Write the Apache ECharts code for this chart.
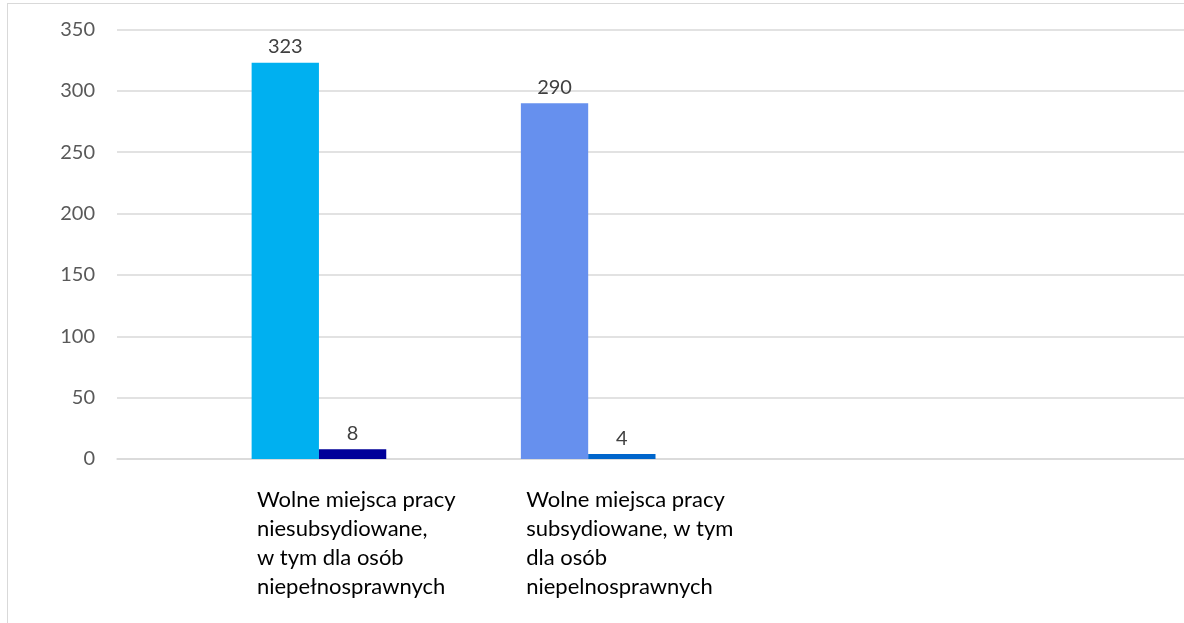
<!DOCTYPE html>
<html>
<head>
  <meta charset="utf-8">
  <title>Wolne miejsca pracy</title>
  <style>
    html, body { margin: 0; padding: 0; background: #fff; }
    #chart { width: 1184px; height: 623px; }
    #frame { position: absolute; left: 7px; top: 3px; width: 1200px; height: 640px;
             border-left: 1px solid #d9d9d9; border-top: 1px solid #d9d9d9; pointer-events: none; }
  </style>
</head>
<body>
<div id="chart"></div>
<div id="frame"></div>
<script src="https://cdn.jsdelivr.net/npm/echarts@6/dist/echarts.min.js"></script>
<script>
  // kategorie (puste = odstępy jak w oryginale)
  var categories = [
    '',
    'Wolne miejsca pracy\nniesubsydiowane,\nw tym dla osób\nniepełnosprawnych',
    '',
    'Wolne miejsca pracy\nsubsydiowane, w tym\ndla osób\nniepelnosprawnych',
    '', '', '', ''
  ];
  var ogolem = [null, 323, null, 290, null, null, null, null];
  var niepelnosprawni = [null, 8, null, 4, null, null, null, null];
  var yTicks = [0, 50, 100, 150, 200, 250, 300, 350];

  var kolorOgolem = { 1: '#00B0F0', 3: '#6690EE' };
  var kolorNiep = { 1: '#000099', 3: '#0066CC' };

  function toData(arr, colors) {
    return arr.map(function (v, i) {
      if (v === null) return null;
      return { value: v, itemStyle: { color: colors[i] } };
    });
  }

  var font = 'Lato, sans-serif';
  var chart = echarts.init(document.getElementById('chart'));
  chart.setOption({
    animation: false,
    grid: { left: 117, width: 1077, top: 29.5, bottom: 164, containLabel: false, outerBoundsMode: 'none' },
    xAxis: {
      type: 'category',
      data: categories,
      axisLine: { show: true, lineStyle: { color: '#d9d9d9', width: 1.5 } },
      axisTick: { show: false },
      axisLabel: {
        interval: 0,
        align: 'left',
        padding: [0, 0, 0, -62],
        margin: 26,
        color: '#000',
        fontFamily: font,
        fontSize: 22,
        lineHeight: 29
      }
    },
    yAxis: {
      type: 'value',
      min: yTicks[0],
      max: yTicks[yTicks.length - 1],
      interval: 50,
      axisLine: { show: false },
      axisTick: { show: false },
      splitLine: { lineStyle: { color: '#d9d9d9', width: 1.5 } },
      axisLabel: { margin: 22, color: '#595959', fontFamily: font, fontSize: 20 }
    },
    series: [
      {
        type: 'bar',
        data: toData(ogolem, kolorOgolem),
        barGap: '0%',
        barCategoryGap: '0%',
        label: { show: true, position: 'top', distance: 6, color: '#404040', fontFamily: font, fontSize: 20 }
      },
      {
        type: 'bar',
        data: toData(niepelnosprawni, kolorNiep),
        barGap: '0%',
        barCategoryGap: '0%',
        label: { show: true, position: 'top', distance: 6, color: '#404040', fontFamily: font, fontSize: 20 }
      }
    ]
  });
</script>
</body>
</html>
